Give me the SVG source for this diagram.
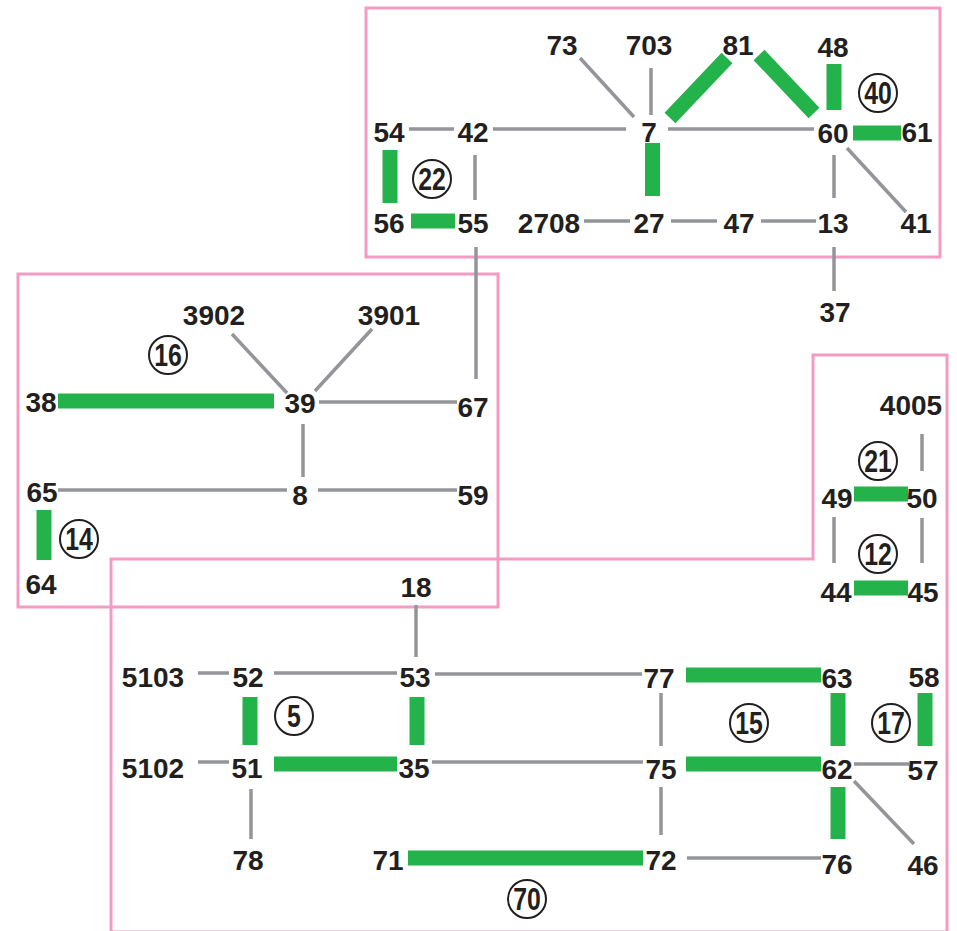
<svg xmlns="http://www.w3.org/2000/svg" width="957" height="931" viewBox="0 0 957 931">
<style>
.zone{fill:none;stroke:#f59bc3;stroke-width:3}
.g{stroke:#939598;stroke-width:3.5;fill:none}
.k{stroke:#24b24b;stroke-width:15;fill:none}
text{font-family:"Liberation Sans",Arial,sans-serif;font-weight:bold;fill:#231f20;text-anchor:middle}
.n{font-size:28px}
.c{font-size:31px}
.ring{fill:none;stroke:#231f20;stroke-width:2}
</style>
<rect width="957" height="931" fill="#ffffff"/>
<g id="zones">
<rect class="zone" x="366" y="8" width="574" height="249"/>
<rect class="zone" x="18" y="274" width="480" height="333"/>
<path class="zone" d="M111,932 V559 H813 V355 H947 V932 Z"/>
</g>
<g id="connectors">
<line class="g" x1="409" y1="129" x2="454" y2="129"/>
<line class="g" x1="493" y1="129" x2="626" y2="129"/>
<line class="g" x1="668" y1="129" x2="814" y2="129"/>
<line class="g" x1="580" y1="58" x2="634" y2="117"/>
<line class="g" x1="651" y1="68" x2="651" y2="115"/>
<line class="k" x1="670" y1="118" x2="727" y2="58"/>
<line class="k" x1="759" y1="55" x2="814" y2="113"/>
<line class="k" x1="834" y1="64" x2="834" y2="110"/>
<line class="k" x1="853" y1="133" x2="901" y2="133"/>
<line class="g" x1="847" y1="148" x2="906" y2="212"/>
<line class="g" x1="834" y1="155" x2="834" y2="198"/>
<line class="k" x1="652.5" y1="143" x2="652.5" y2="196"/>
<line class="g" x1="475" y1="155" x2="475" y2="200"/>
<line class="k" x1="390" y1="150" x2="390" y2="203"/>
<line class="k" x1="411" y1="221" x2="455" y2="221"/>
<line class="g" x1="584" y1="221" x2="630" y2="221"/>
<line class="g" x1="671" y1="221" x2="717" y2="221"/>
<line class="g" x1="761" y1="221" x2="816" y2="221"/>
<line class="g" x1="834" y1="247" x2="834" y2="291"/>
<line class="g" x1="476" y1="247" x2="476" y2="379"/>
<line class="k" x1="58" y1="401" x2="274" y2="401"/>
<line class="g" x1="232" y1="334" x2="287" y2="393"/>
<line class="g" x1="372" y1="329" x2="315" y2="391"/>
<line class="g" x1="319" y1="402" x2="457" y2="402"/>
<line class="g" x1="303" y1="424" x2="303" y2="477"/>
<line class="g" x1="58" y1="490" x2="287" y2="490"/>
<line class="g" x1="318" y1="490" x2="457" y2="490"/>
<line class="k" x1="44" y1="510" x2="44" y2="560"/>
<line class="g" x1="922" y1="434" x2="922" y2="471"/>
<line class="k" x1="854" y1="494" x2="908" y2="494"/>
<line class="g" x1="834" y1="517" x2="834" y2="563"/>
<line class="g" x1="922" y1="518" x2="922" y2="563"/>
<line class="k" x1="854" y1="588" x2="908" y2="588"/>
<line class="g" x1="416" y1="605" x2="416" y2="657"/>
<line class="g" x1="198" y1="673" x2="229" y2="673"/>
<line class="g" x1="274" y1="673" x2="397" y2="673"/>
<line class="g" x1="435" y1="674" x2="642" y2="674"/>
<line class="k" x1="250" y1="697" x2="250" y2="745"/>
<line class="k" x1="417" y1="697" x2="417" y2="745"/>
<line class="g" x1="198" y1="762" x2="229" y2="762"/>
<line class="k" x1="274" y1="764" x2="397" y2="764"/>
<line class="g" x1="432" y1="762" x2="643" y2="762"/>
<line class="g" x1="251" y1="789" x2="251" y2="839"/>
<line class="k" x1="408" y1="858" x2="643" y2="858"/>
<line class="k" x1="686" y1="675" x2="821" y2="675"/>
<line class="g" x1="661" y1="693" x2="661" y2="746"/>
<line class="k" x1="838" y1="693" x2="838" y2="746"/>
<line class="k" x1="925" y1="693" x2="925" y2="746"/>
<line class="k" x1="686" y1="764" x2="821" y2="764"/>
<line class="g" x1="854" y1="764" x2="909" y2="764"/>
<line class="g" x1="854" y1="781" x2="914" y2="844"/>
<line class="k" x1="838" y1="787" x2="838" y2="839"/>
<line class="g" x1="661" y1="787" x2="661" y2="835"/>
<line class="g" x1="687" y1="858" x2="821" y2="858"/>
</g>
<g id="nodes">
<g id="n73"><text class="n" x="562" y="55">73</text></g>
<g id="n703"><text class="n" x="649" y="55">703</text></g>
<g id="n81"><text class="n" x="738" y="55">81</text></g>
<g id="n48"><text class="n" x="833" y="57">48</text></g>
<g id="n54"><text class="n" x="389" y="142">54</text></g>
<g id="n42"><text class="n" x="473" y="142">42</text></g>
<g id="n7"><text class="n" x="649" y="142">7</text></g>
<g id="n60"><text class="n" x="833" y="143">60</text></g>
<g id="n61"><text class="n" x="917" y="142">61</text></g>
<g id="n56"><text class="n" x="389" y="233">56</text></g>
<g id="n55"><text class="n" x="473" y="233">55</text></g>
<g id="n2708"><text class="n" x="549" y="233">2708</text></g>
<g id="n27"><text class="n" x="649" y="233">27</text></g>
<g id="n47"><text class="n" x="739" y="233">47</text></g>
<g id="n13"><text class="n" x="833" y="233">13</text></g>
<g id="n41"><text class="n" x="916" y="233">41</text></g>
<g id="n37"><text class="n" x="835" y="322">37</text></g>
<g id="n3902"><text class="n" x="214" y="325">3902</text></g>
<g id="n3901"><text class="n" x="389" y="325">3901</text></g>
<g id="n38"><text class="n" x="41" y="412">38</text></g>
<g id="n39"><text class="n" x="300" y="413">39</text></g>
<g id="n67"><text class="n" x="473" y="417">67</text></g>
<g id="n65"><text class="n" x="42" y="502">65</text></g>
<g id="n8"><text class="n" x="300" y="505">8</text></g>
<g id="n59"><text class="n" x="473" y="505">59</text></g>
<g id="n64"><text class="n" x="41" y="594">64</text></g>
<g id="n18"><text class="n" x="416" y="597">18</text></g>
<g id="n4005"><text class="n" x="911" y="415">4005</text></g>
<g id="n49"><text class="n" x="837" y="508">49</text></g>
<g id="n50"><text class="n" x="922" y="508">50</text></g>
<g id="n44"><text class="n" x="836" y="602">44</text></g>
<g id="n45"><text class="n" x="923" y="602">45</text></g>
<g id="n5103"><text class="n" x="153" y="687">5103</text></g>
<g id="n52"><text class="n" x="248" y="687">52</text></g>
<g id="n53"><text class="n" x="415" y="687">53</text></g>
<g id="n77"><text class="n" x="659" y="688">77</text></g>
<g id="n63"><text class="n" x="837" y="688">63</text></g>
<g id="n58"><text class="n" x="924" y="687">58</text></g>
<g id="n5102"><text class="n" x="153" y="778">5102</text></g>
<g id="n51"><text class="n" x="247" y="778">51</text></g>
<g id="n35"><text class="n" x="414" y="778">35</text></g>
<g id="n75"><text class="n" x="661" y="779">75</text></g>
<g id="n62"><text class="n" x="837" y="779">62</text></g>
<g id="n57"><text class="n" x="923" y="780">57</text></g>
<g id="n78"><text class="n" x="248" y="870">78</text></g>
<g id="n71"><text class="n" x="388" y="870">71</text></g>
<g id="n72"><text class="n" x="661" y="870">72</text></g>
<g id="n76"><text class="n" x="837" y="874">76</text></g>
<g id="n46"><text class="n" x="923" y="875">46</text></g>
<g id="c40"><circle class="ring" cx="878" cy="93" r="19"/><text class="c" transform="translate(878,104) scale(0.8,1)">40</text></g>
<g id="c22"><circle class="ring" cx="432" cy="179" r="19"/><text class="c" transform="translate(432,190) scale(0.8,1)">22</text></g>
<g id="c16"><circle class="ring" cx="168" cy="355" r="19"/><text class="c" transform="translate(168,366) scale(0.8,1)">16</text></g>
<g id="c14"><circle class="ring" cx="79" cy="539" r="19"/><text class="c" transform="translate(79,550) scale(0.8,1)">14</text></g>
<g id="c21"><circle class="ring" cx="878" cy="461" r="19"/><text class="c" transform="translate(878,472) scale(0.8,1)">21</text></g>
<g id="c12"><circle class="ring" cx="878" cy="554" r="19"/><text class="c" transform="translate(878,565) scale(0.8,1)">12</text></g>
<g id="c5"><circle class="ring" cx="294" cy="716" r="19"/><text class="c" transform="translate(294,727) scale(0.8,1)">5</text></g>
<g id="c15"><circle class="ring" cx="749" cy="723" r="19"/><text class="c" transform="translate(749,734) scale(0.8,1)">15</text></g>
<g id="c17"><circle class="ring" cx="891" cy="723" r="19"/><text class="c" transform="translate(891,734) scale(0.8,1)">17</text></g>
<g id="c70"><circle class="ring" cx="527" cy="899" r="19"/><text class="c" transform="translate(527,910) scale(0.8,1)">70</text></g>
</g>
</svg>
